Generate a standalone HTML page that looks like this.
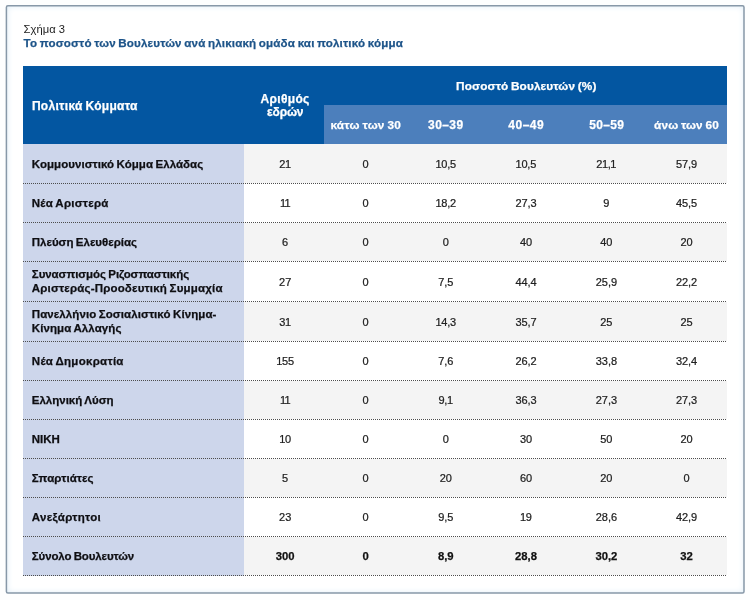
<!DOCTYPE html>
<html lang="el"><head><meta charset="utf-8"><title>Σχήμα 3</title>
<style>
html,body{margin:0;padding:0;}
body{width:750px;height:600px;position:relative;overflow:hidden;background:#fdfefe;font-family:"Liberation Sans",sans-serif;color:#1a1a1a;}
.glow{position:absolute;left:7px;top:6px;width:737px;height:587px;background:#fff;box-shadow:inset 0 0 6px #d9eaf5;}
.frame{position:absolute;left:0;top:0;}
.hd{position:absolute;left:23px;top:66px;width:704px;height:78px;background:#0356a1;}
.sub{position:absolute;left:324px;top:105px;width:403px;height:39px;background:#4c7fbc;}
.c1{position:absolute;left:23px;width:221px;background:#cdd6eb;}
.rw{position:absolute;left:244px;width:483px;background:#f4f4f4;}
.ln{position:absolute;left:23px;width:704px;height:1px;background-image:repeating-linear-gradient(90deg,#4d4d4d 0,#4d4d4d 1px,transparent 1px,transparent 2px);}
.t{position:absolute;white-space:nowrap;line-height:16px;height:16px;}
.b{font-weight:bold;word-spacing:-0.8px;-webkit-text-stroke:0.25px;}
.v{-webkit-text-stroke:0.22px;}
</style></head><body>
<div class="glow"></div>
<svg class="frame" width="750" height="600" viewBox="0 0 750 600"><rect x="6.4" y="5.7" width="737.6" height="587.4" rx="1.5" fill="none" stroke="#8798a8" stroke-width="1.5"/></svg>
<div class="hd"></div><div class="sub"></div>
<div class="c1" style="top:144px;height:432px"></div>
<div class="rw" style="top:144px;height:39px"></div>

<div class="rw" style="top:223px;height:38px"></div>

<div class="rw" style="top:302px;height:39px"></div>

<div class="rw" style="top:381px;height:38px"></div>

<div class="rw" style="top:459px;height:38px"></div>

<div class="rw" style="top:537px;height:38px"></div>
<div class="ln" style="top:183px"></div><div class="ln" style="top:222px"></div><div class="ln" style="top:261px"></div><div class="ln" style="top:301px"></div><div class="ln" style="top:341px"></div><div class="ln" style="top:380px"></div><div class="ln" style="top:419px"></div><div class="ln" style="top:458px"></div><div class="ln" style="top:497px"></div><div class="ln" style="top:536px"></div><div class="ln" style="top:575px"></div>
<div class="t" style="left:23.6px;top:21.0px;font-size:11.2px;color:#222;letter-spacing:0.03px;">Σχήμα 3</div>
<div class="t b" style="left:23.6px;top:35.0px;font-size:11.6px;color:#1d5489;letter-spacing:0.15px;">Το ποσοστό των Βουλευτών ανά ηλικιακή ομάδα και πολιτικό κόμμα</div>
<div class="t b" style="left:31.9px;top:98.0px;font-size:12.0px;color:#fff;letter-spacing:0.30px;">Πολιτικά Κόμματα</div>
<div class="t b" style="left:260.6px;top:91.0px;font-size:12.0px;color:#fff;letter-spacing:0.32px;">Αριθμός</div>
<div class="t b" style="left:267.1px;top:104.0px;font-size:12.0px;color:#fff;letter-spacing:-0.20px;">εδρών</div>
<div class="t b" style="left:456.0px;top:78.0px;font-size:11.8px;color:#fff;letter-spacing:0.12px;">Ποσοστό Βουλευτών (%)</div>
<div class="t b" style="left:330.4px;top:117.0px;font-size:11.8px;color:#fff;letter-spacing:0.25px;">κάτω των 30</div>
<div class="t b" style="left:428.1px;top:117.0px;font-size:12.0px;color:#fff;letter-spacing:0.40px;">30–39</div>
<div class="t b" style="left:508.3px;top:117.0px;font-size:12.0px;color:#fff;letter-spacing:0.50px;">40–49</div>
<div class="t b" style="left:589.3px;top:117.0px;font-size:12.0px;color:#fff;letter-spacing:0.33px;">50–59</div>
<div class="t b" style="left:654.0px;top:117.0px;font-size:11.8px;color:#fff;letter-spacing:0.16px;">άνω των 60</div>
<div class="t b" style="left:31.8px;top:156.0px;font-size:11.5px;color:#0e0e12;letter-spacing:0.05px;">Κομμουνιστικό Κόμμα Ελλάδας</div>
<div class="t v" style="left:279.3px;top:156.0px;font-size:11.0px;color:#202020;letter-spacing:-0.42px;">21</div>
<div class="t v" style="left:362.5px;top:156.0px;font-size:11.0px;color:#202020;letter-spacing:-0.05px;">0</div>
<div class="t v" style="left:435.4px;top:156.0px;font-size:11.0px;color:#202020;letter-spacing:-0.24px;">10,5</div>
<div class="t v" style="left:515.6px;top:156.0px;font-size:11.0px;color:#202020;letter-spacing:-0.24px;">10,5</div>
<div class="t v" style="left:596.3px;top:156.0px;font-size:11.0px;color:#202020;letter-spacing:-0.42px;">21,1</div>
<div class="t v" style="left:675.9px;top:156.0px;font-size:11.0px;color:#202020;letter-spacing:-0.05px;">57,9</div>
<div class="t b" style="left:31.8px;top:195.0px;font-size:11.5px;color:#0e0e12;letter-spacing:0.25px;">Νέα Αριστερά</div>
<div class="t v" style="left:279.9px;top:195.0px;font-size:11.0px;color:#202020;letter-spacing:-0.80px;">11</div>
<div class="t v" style="left:362.5px;top:195.0px;font-size:11.0px;color:#202020;letter-spacing:-0.05px;">0</div>
<div class="t v" style="left:435.4px;top:195.0px;font-size:11.0px;color:#202020;letter-spacing:-0.24px;">18,2</div>
<div class="t v" style="left:515.4px;top:195.0px;font-size:11.0px;color:#202020;letter-spacing:-0.05px;">27,3</div>
<div class="t v" style="left:603.3px;top:195.0px;font-size:11.0px;color:#202020;letter-spacing:-0.05px;">9</div>
<div class="t v" style="left:675.9px;top:195.0px;font-size:11.0px;color:#202020;letter-spacing:-0.05px;">45,5</div>
<div class="t b" style="left:31.8px;top:234.0px;font-size:11.5px;color:#0e0e12;letter-spacing:-0.01px;">Πλεύση Ελευθερίας</div>
<div class="t v" style="left:282.1px;top:234.0px;font-size:11.0px;color:#202020;letter-spacing:-0.05px;">6</div>
<div class="t v" style="left:362.5px;top:234.0px;font-size:11.0px;color:#202020;letter-spacing:-0.05px;">0</div>
<div class="t v" style="left:442.7px;top:234.0px;font-size:11.0px;color:#202020;letter-spacing:-0.05px;">0</div>
<div class="t v" style="left:519.9px;top:234.0px;font-size:11.0px;color:#202020;letter-spacing:-0.05px;">40</div>
<div class="t v" style="left:600.3px;top:234.0px;font-size:11.0px;color:#202020;letter-spacing:-0.05px;">40</div>
<div class="t v" style="left:680.4px;top:234.0px;font-size:11.0px;color:#202020;letter-spacing:-0.05px;">20</div>
<div class="t b" style="left:31.8px;top:266.0px;font-size:11.5px;color:#0e0e12;letter-spacing:-0.06px;">Συνασπισμός Ριζοσπαστικής</div>
<div class="t b" style="left:31.8px;top:280.0px;font-size:11.5px;color:#0e0e12;letter-spacing:0.18px;">Αριστεράς-Προοδευτική Συμμαχία</div>
<div class="t v" style="left:279.1px;top:274.0px;font-size:11.0px;color:#202020;letter-spacing:-0.05px;">27</div>
<div class="t v" style="left:362.5px;top:274.0px;font-size:11.0px;color:#202020;letter-spacing:-0.05px;">0</div>
<div class="t v" style="left:438.2px;top:274.0px;font-size:11.0px;color:#202020;letter-spacing:-0.05px;">7,5</div>
<div class="t v" style="left:515.4px;top:274.0px;font-size:11.0px;color:#202020;letter-spacing:-0.05px;">44,4</div>
<div class="t v" style="left:595.8px;top:274.0px;font-size:11.0px;color:#202020;letter-spacing:-0.05px;">25,9</div>
<div class="t v" style="left:675.9px;top:274.0px;font-size:11.0px;color:#202020;letter-spacing:-0.05px;">22,2</div>
<div class="t b" style="left:31.8px;top:306.0px;font-size:11.5px;color:#0e0e12;letter-spacing:0.08px;">Πανελλήνιο Σοσιαλιστικό Κίνημα-</div>
<div class="t b" style="left:31.8px;top:320.0px;font-size:11.5px;color:#0e0e12;letter-spacing:0.09px;">Κίνημα Αλλαγής</div>
<div class="t v" style="left:279.3px;top:314.0px;font-size:11.0px;color:#202020;letter-spacing:-0.42px;">31</div>
<div class="t v" style="left:362.5px;top:314.0px;font-size:11.0px;color:#202020;letter-spacing:-0.05px;">0</div>
<div class="t v" style="left:435.4px;top:314.0px;font-size:11.0px;color:#202020;letter-spacing:-0.24px;">14,3</div>
<div class="t v" style="left:515.4px;top:314.0px;font-size:11.0px;color:#202020;letter-spacing:-0.05px;">35,7</div>
<div class="t v" style="left:600.3px;top:314.0px;font-size:11.0px;color:#202020;letter-spacing:-0.05px;">25</div>
<div class="t v" style="left:680.4px;top:314.0px;font-size:11.0px;color:#202020;letter-spacing:-0.05px;">25</div>
<div class="t b" style="left:31.8px;top:353.0px;font-size:11.5px;color:#0e0e12;letter-spacing:0.29px;">Νέα Δημοκρατία</div>
<div class="t v" style="left:276.3px;top:353.0px;font-size:11.0px;color:#202020;letter-spacing:-0.30px;">155</div>
<div class="t v" style="left:362.5px;top:353.0px;font-size:11.0px;color:#202020;letter-spacing:-0.05px;">0</div>
<div class="t v" style="left:438.2px;top:353.0px;font-size:11.0px;color:#202020;letter-spacing:-0.05px;">7,6</div>
<div class="t v" style="left:515.4px;top:353.0px;font-size:11.0px;color:#202020;letter-spacing:-0.05px;">26,2</div>
<div class="t v" style="left:595.8px;top:353.0px;font-size:11.0px;color:#202020;letter-spacing:-0.05px;">33,8</div>
<div class="t v" style="left:675.9px;top:353.0px;font-size:11.0px;color:#202020;letter-spacing:-0.05px;">32,4</div>
<div class="t b" style="left:31.8px;top:392.0px;font-size:11.5px;color:#0e0e12;">Ελληνική Λύση</div>
<div class="t v" style="left:279.9px;top:392.0px;font-size:11.0px;color:#202020;letter-spacing:-0.80px;">11</div>
<div class="t v" style="left:362.5px;top:392.0px;font-size:11.0px;color:#202020;letter-spacing:-0.05px;">0</div>
<div class="t v" style="left:438.5px;top:392.0px;font-size:11.0px;color:#202020;letter-spacing:-0.30px;">9,1</div>
<div class="t v" style="left:515.4px;top:392.0px;font-size:11.0px;color:#202020;letter-spacing:-0.05px;">36,3</div>
<div class="t v" style="left:595.8px;top:392.0px;font-size:11.0px;color:#202020;letter-spacing:-0.05px;">27,3</div>
<div class="t v" style="left:675.9px;top:392.0px;font-size:11.0px;color:#202020;letter-spacing:-0.05px;">27,3</div>
<div class="t b" style="left:31.8px;top:431.0px;font-size:11.5px;color:#0e0e12;letter-spacing:-0.01px;">ΝΙΚΗ</div>
<div class="t v" style="left:279.3px;top:431.0px;font-size:11.0px;color:#202020;letter-spacing:-0.42px;">10</div>
<div class="t v" style="left:362.5px;top:431.0px;font-size:11.0px;color:#202020;letter-spacing:-0.05px;">0</div>
<div class="t v" style="left:442.7px;top:431.0px;font-size:11.0px;color:#202020;letter-spacing:-0.05px;">0</div>
<div class="t v" style="left:519.9px;top:431.0px;font-size:11.0px;color:#202020;letter-spacing:-0.05px;">30</div>
<div class="t v" style="left:600.3px;top:431.0px;font-size:11.0px;color:#202020;letter-spacing:-0.05px;">50</div>
<div class="t v" style="left:680.4px;top:431.0px;font-size:11.0px;color:#202020;letter-spacing:-0.05px;">20</div>
<div class="t b" style="left:31.8px;top:470.0px;font-size:11.5px;color:#0e0e12;letter-spacing:0.08px;">Σπαρτιάτες</div>
<div class="t v" style="left:282.1px;top:470.0px;font-size:11.0px;color:#202020;letter-spacing:-0.05px;">5</div>
<div class="t v" style="left:362.5px;top:470.0px;font-size:11.0px;color:#202020;letter-spacing:-0.05px;">0</div>
<div class="t v" style="left:439.7px;top:470.0px;font-size:11.0px;color:#202020;letter-spacing:-0.05px;">20</div>
<div class="t v" style="left:519.9px;top:470.0px;font-size:11.0px;color:#202020;letter-spacing:-0.05px;">60</div>
<div class="t v" style="left:600.3px;top:470.0px;font-size:11.0px;color:#202020;letter-spacing:-0.05px;">20</div>
<div class="t v" style="left:683.4px;top:470.0px;font-size:11.0px;color:#202020;letter-spacing:-0.05px;">0</div>
<div class="t b" style="left:31.8px;top:509.0px;font-size:11.5px;color:#0e0e12;letter-spacing:0.31px;">Ανεξάρτητοι</div>
<div class="t v" style="left:279.1px;top:509.0px;font-size:11.0px;color:#202020;letter-spacing:-0.05px;">23</div>
<div class="t v" style="left:362.5px;top:509.0px;font-size:11.0px;color:#202020;letter-spacing:-0.05px;">0</div>
<div class="t v" style="left:438.2px;top:509.0px;font-size:11.0px;color:#202020;letter-spacing:-0.05px;">9,5</div>
<div class="t v" style="left:520.1px;top:509.0px;font-size:11.0px;color:#202020;letter-spacing:-0.42px;">19</div>
<div class="t v" style="left:595.8px;top:509.0px;font-size:11.0px;color:#202020;letter-spacing:-0.05px;">28,6</div>
<div class="t v" style="left:675.9px;top:509.0px;font-size:11.0px;color:#202020;letter-spacing:-0.05px;">42,9</div>
<div class="t b" style="left:31.8px;top:548.0px;font-size:11.5px;color:#0e0e12;letter-spacing:-0.12px;">Σύνολο Βουλευτών</div>
<div class="t b" style="left:275.8px;top:548.0px;font-size:11.3px;color:#111;">300</div>
<div class="t b" style="left:362.5px;top:548.0px;font-size:11.3px;color:#111;">0</div>
<div class="t b" style="left:437.9px;top:548.0px;font-size:11.3px;color:#111;">8,9</div>
<div class="t b" style="left:515.0px;top:548.0px;font-size:11.3px;color:#111;">28,8</div>
<div class="t b" style="left:595.4px;top:548.0px;font-size:11.3px;color:#111;">30,2</div>
<div class="t b" style="left:680.2px;top:548.0px;font-size:11.3px;color:#111;">32</div>
</body></html>
